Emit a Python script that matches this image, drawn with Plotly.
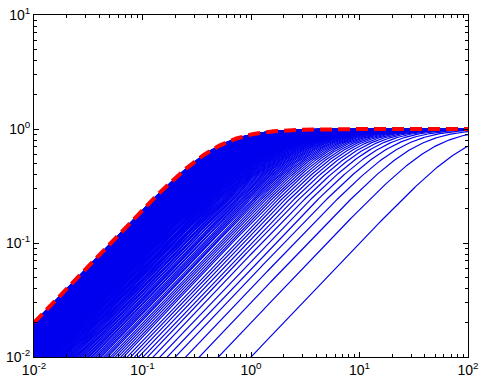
import numpy as np
import plotly.graph_objects as go

gains = [i / 100 for i in range(1, 201)]
envelope_gain = 2.0
x_range_dec = [-2, 2]
y_range_dec = [-2, 1]
tick_x = [1e-2, 1e-1, 1e0, 1e1, 1e2]
tick_x_text = ["10<sup>-2</sup>", "10<sup>-1</sup>", "10<sup>0</sup>", "10<sup>1</sup>", "10<sup>2</sup>"]
tick_y = [1e-2, 1e-1, 1e0, 1e1]
tick_y_text = ["10<sup>-2</sup>", "10<sup>-1</sup>", "10<sup>0</sup>", "10<sup>1</sup>"]

x = np.logspace(-2, 2, 400)


def response(k):
    u = k * x
    return u / np.sqrt(1 + u ** 2)


fig = go.Figure()
for k in gains:
    fig.add_trace(go.Scatter(x=x, y=response(k), mode="lines",
                             line=dict(color="#0000ee", width=1.2),
                             hoverinfo="skip", showlegend=False))
fig.add_trace(go.Scatter(x=x, y=response(envelope_gain), mode="lines",
                         line=dict(color="#ff0000", width=4, dash="12px,6px"),
                         showlegend=False))

minor_x = [m * 10 ** d for d in range(-2, 2) for m in range(2, 10)]
minor_y = [m * 10 ** d for d in range(-2, 1) for m in range(2, 10)]

font = dict(family="Liberation Sans, Arial, sans-serif", size=14, color="black")
axis_common = dict(type="log", showgrid=False, zeroline=False, showline=True,
                   linecolor="black", linewidth=1, mirror="ticks",
                   ticks="inside", ticklen=5, tickcolor="black",
                   tickfont=font, automargin=False)
fig.update_xaxes(range=x_range_dec, tickvals=tick_x, ticktext=tick_x_text,
                 minor=dict(tickvals=minor_x, ticks="inside", ticklen=3, tickcolor="black", showgrid=False),
                 **axis_common)
fig.update_yaxes(range=y_range_dec, tickvals=tick_y, ticktext=tick_y_text,
                 minor=dict(tickvals=minor_y, ticks="inside", ticklen=3, tickcolor="black", showgrid=False),
                 **axis_common)
fig.update_layout(width=481, height=387, margin=dict(l=34, r=13, t=15, b=30),
                  plot_bgcolor="white", paper_bgcolor="white", showlegend=False)
fig.write_html("out.html", config={"displayModeBar": False},
               post_script="document.body.style.margin='0px';")
